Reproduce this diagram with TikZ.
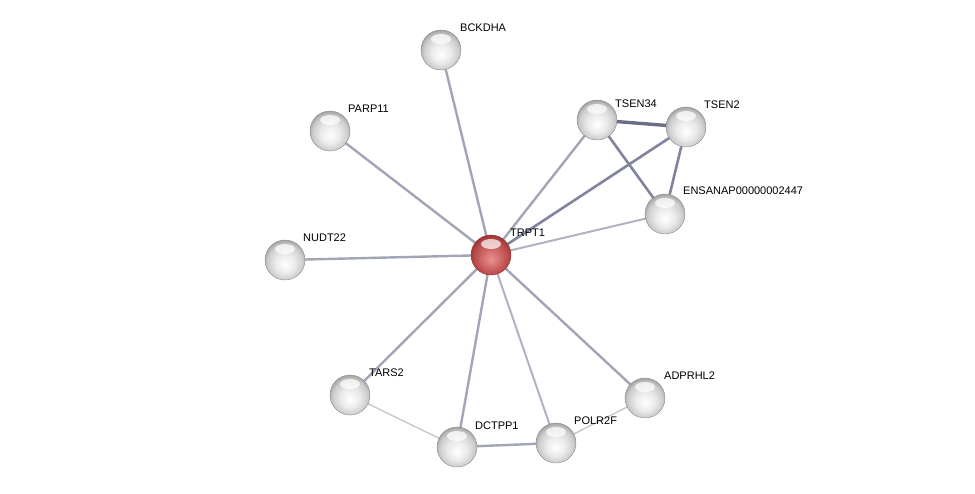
\documentclass[tikz,border=0pt]{standalone}
\usepackage{fontspec}
\setmainfont{Liberation Sans}
\definecolor{edgeA}{HTML}{A2A5B6}
\definecolor{edgeB}{HTML}{80849C}
\definecolor{edgeC}{HTML}{6A6E88}
\definecolor{edgeL}{HTML}{B0B2C2}
\definecolor{edgeV}{HTML}{C6C7D0}
\definecolor{redA}{HTML}{E89090}
\definecolor{redB}{HTML}{D06868}
\definecolor{redC}{HTML}{B84848}
\definecolor{redD}{HTML}{9A3434}
\pgfdeclareradialshading{gball}{\pgfpoint{0bp}{-6bp}}{color(0bp)=(white); color(12bp)=(white!92!black); color(22bp)=(white!80!black); color(27bp)=(white!64!black); color(40bp)=(white!60!black)}
\pgfdeclareradialshading{rball}{\pgfpoint{0bp}{-6bp}}{color(0bp)=(redA); color(12bp)=(redB); color(22bp)=(redC); color(27bp)=(redD); color(40bp)=(redD)}
\tikzset{
  x=1pt,y=-1pt,
  prot/.style={circle,minimum size=40pt,inner sep=0pt,shading=gball,draw=white!55!black,line width=0.4pt},
  hub/.style={circle,minimum size=40pt,inner sep=0pt,shading=rball,draw=redD,line width=0.4pt},
  lbl/.style={anchor=west,font=\fontsize{11}{13}\selectfont,inner sep=1pt},
  e/.style={draw=edgeA,line width=2.4pt},
  eb/.style={draw=edgeB,line width=2.6pt},
  ec/.style={draw=edgeC,line width=3.4pt},
  el/.style={draw=edgeL,line width=2pt},
  ev/.style={draw=edgeV,line width=1.4pt},
}
\newcommand{\shine}[1]{\fill[white,opacity=0.7] ([yshift=11pt]#1.center) ellipse (10pt and 5pt);}
\begin{document}
\begin{tikzpicture}
\useasboundingbox (0,0) rectangle (975,493);
\coordinate (pTRPT1) at (491,255);
\coordinate (pBCKDHA) at (441,50);
\coordinate (pPARP11) at (330,131);
\coordinate (pNUDT22) at (285,260);
\coordinate (pTSEN34) at (597,120);
\coordinate (pTSEN2) at (686,127);
\coordinate (pENS) at (665,214);
\coordinate (pTARS2) at (350,395);
\coordinate (pDCTPP1) at (457,447);
\coordinate (pPOLR2F) at (556,443);
\coordinate (pADPRHL2) at (645,398);
% edges
\path[e] (pTRPT1) -- (pBCKDHA);
\path[e] (pTRPT1) -- (pPARP11);
\path[e] (pTRPT1) -- (pNUDT22);
\path[e] (pTRPT1) -- (pTSEN34);
\path[eb] (pTRPT1) -- (pTSEN2);
\path[el] (pTRPT1) -- (pENS);
\path[e] (pTRPT1) -- (pTARS2);
\path[e] (pTRPT1) -- (pDCTPP1);
\path[el] (pTRPT1) -- (pPOLR2F);
\path[e] (pTRPT1) -- (pADPRHL2);
\path[ec] (pTSEN34) -- (pTSEN2);
\path[eb] (pTSEN34) -- (pENS);
\path[eb] (pTSEN2) -- (pENS);
\path[ev] (pTARS2) -- (pDCTPP1);
\path[e] (pDCTPP1) -- (pPOLR2F);
\path[ev] (pPOLR2F) -- (pADPRHL2);
% nodes
\node[hub] (TRPT1) at (pTRPT1) {}; \shine{TRPT1}
\node[prot] (BCKDHA) at (pBCKDHA) {}; \shine{BCKDHA}
\node[prot] (PARP11) at (pPARP11) {}; \shine{PARP11}
\node[prot] (NUDT22) at (pNUDT22) {}; \shine{NUDT22}
\node[prot] (TSEN34) at (pTSEN34) {}; \shine{TSEN34}
\node[prot] (TSEN2) at (pTSEN2) {}; \shine{TSEN2}
\node[prot] (ENS) at (pENS) {}; \shine{ENS}
\node[prot] (TARS2) at (pTARS2) {}; \shine{TARS2}
\node[prot] (DCTPP1) at (pDCTPP1) {}; \shine{DCTPP1}
\node[prot] (POLR2F) at (pPOLR2F) {}; \shine{POLR2F}
\node[prot] (ADPRHL2) at (pADPRHL2) {}; \shine{ADPRHL2}
% labels
\node[lbl] (lTRPT1) at (509,233) {TRPT1};
\node[lbl] (lBCKDHA) at (459,28) {BCKDHA};
\node[lbl] (lPARP11) at (347,109) {PARP11};
\node[lbl] (lNUDT22) at (302,238) {NUDT22};
\node[lbl] (lTSEN34) at (614,104) {TSEN34};
\node[lbl] (lTSEN2) at (703,105) {TSEN2};
\node[lbl] (lENS) at (682,191) {ENSANAP00000002447};
\node[lbl] (lTARS2) at (368,373) {TARS2};
\node[lbl] (lDCTPP1) at (474,426) {DCTPP1};
\node[lbl] (lPOLR2F) at (573,421) {POLR2F};
\node[lbl] (lADPRHL2) at (663,376) {ADPRHL2};
\end{tikzpicture}
\end{document}
